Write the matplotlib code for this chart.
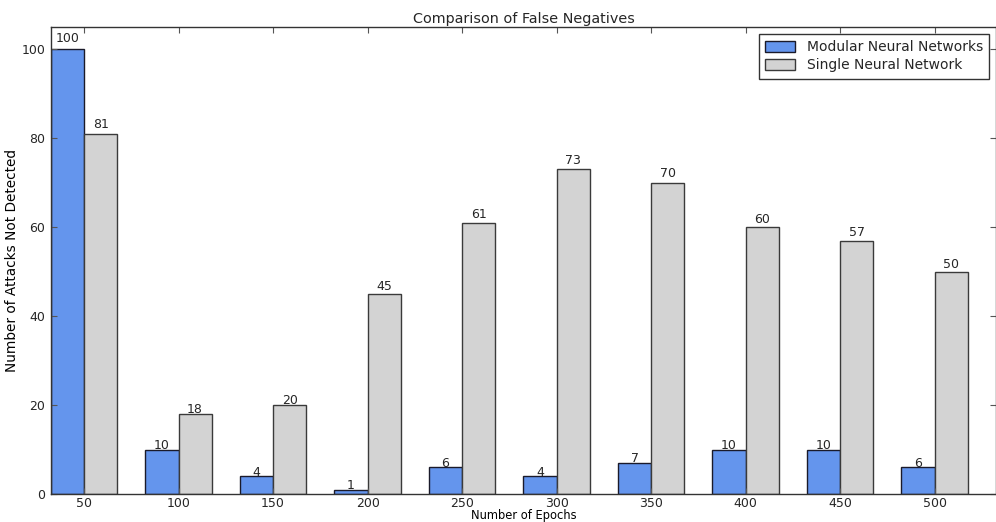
import numpy as np
import matplotlib
matplotlib.use("Agg")
import matplotlib.pyplot as plt

epochs = ["50", "100", "150", "200", "250", "300", "350", "400", "450", "500"]
modular = [100, 10, 4, 1, 6, 4, 7, 10, 10, 6]
single = [81, 18, 20, 45, 61, 73, 70, 60, 57, 50]

text_color = "#262626"
plt.rcParams["font.family"] = "DejaVu Sans"
plt.rcParams["text.color"] = text_color
plt.rcParams["xtick.color"] = text_color
plt.rcParams["ytick.color"] = text_color

fig = plt.figure(figsize=(9.96, 5.22), dpi=100)
ax = fig.add_axes([0.0512, 0.0536, 0.9488, 0.8946])

ind = np.arange(len(epochs))
width = 0.35

bars1 = ax.bar(ind, modular, width, align="edge", color="#6495ED",
               edgecolor="#1a1a2a", linewidth=1.0, label="Modular Neural Networks")
bars2 = ax.bar(ind + width, single, width, align="edge", color="#D3D3D3",
               edgecolor="#3a3a3a", linewidth=1.0, label="Single Neural Network")

for rects in (bars1, bars2):
    for r in rects:
        h = r.get_height()
        ax.text(r.get_x() + r.get_width() / 2, 1.017 * h, "%d" % int(h),
                ha="center", va="baseline", fontsize=9)

ax.set_xlim(0, 10)
ax.set_ylim(0, 105)
ax.set_xticks(ind + width)
ax.set_xticklabels(epochs)
ax.set_yticks([0, 20, 40, 60, 80, 100])
ax.tick_params(axis="both", direction="in", top=True, right=True,
               labelsize=9, length=4, width=0.8, color="#555555", pad=4)
ax.tick_params(axis="x", pad=2)

for s in ax.spines.values():
    s.set_color("#333333")
    s.set_linewidth(1.0)

ax.set_title("Comparison of False Negatives", fontsize=10.4, pad=3)
ax.set_xlabel("Number of Epochs", fontsize=8.3, labelpad=-0.5)
ax.set_ylabel("Number of Attacks Not Detected", fontsize=9.8, labelpad=2)

leg = ax.legend(loc="upper right", fontsize=10, fancybox=False, framealpha=1,
                edgecolor="#333333", handlelength=2.2, handleheight=0.8,
                borderpad=0.45, labelspacing=0.3, handletextpad=0.8,
                borderaxespad=0.5)
leg.get_frame().set_linewidth(1.0)

fig.savefig("out.png", dpi=100)
